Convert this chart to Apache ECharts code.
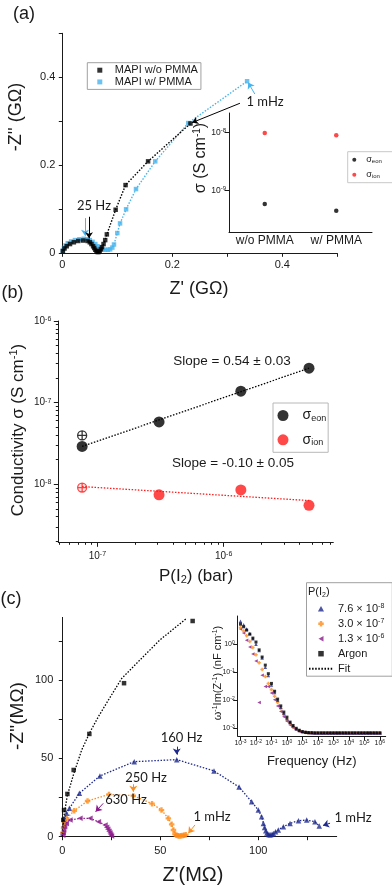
<!DOCTYPE html>
<html>
<head>
<meta charset="utf-8">
<title>MAPI impedance and conductivity</title>
<script src="https://cdn.jsdelivr.net/npm/echarts@6/dist/echarts.min.js"></script>
<style>
  html, body { margin: 0; padding: 0; background: #fff; }
  #chart { width: 392px; height: 887px; }
</style>
</head>
<body>
<div id="chart"></div>
<script>
// ---------- (a) Nyquist plots, GOhm ----------
var aNoPmma = [[0.001,0.005],[0.004,0.011],[0.008,0.016],[0.014,0.021],[0.021,0.025],[0.029,0.028],[0.038,0.029],
  [0.046,0.028],[0.05,0.025],[0.053,0.021],[0.056,0.016],[0.058,0.012],[0.06,0.008],[0.062,0.005],[0.064,0.003],
  [0.066,0.003],[0.068,0.005],[0.07,0.009],[0.072,0.014],[0.075,0.021],[0.078,0.03],[0.081,0.043],[0.097,0.099],
  [0.115,0.155],[0.156,0.209],[0.233,0.295]];
var aPmma = [[0.001,0.006],[0.003,0.012],[0.006,0.018],[0.01,0.023],[0.016,0.027],[0.023,0.03],[0.031,0.032],
  [0.039,0.033],[0.045,0.032],[0.05,0.03],[0.055,0.026],[0.06,0.021],[0.064,0.016],[0.068,0.012],[0.073,0.009],
  [0.078,0.008],[0.083,0.008],[0.087,0.009],[0.091,0.013],[0.094,0.02],[0.1,0.046],[0.105,0.068],[0.116,0.1],
  [0.134,0.146],[0.169,0.209],[0.229,0.296],[0.336,0.391]];
// inset (a), S/cm
var aInsetCats = ['w/o PMMA', 'w/ PMMA'];
var aInsetEon = [5.8e-10, 4.4e-10];
var aInsetIon = [9.7e-9, 8.9e-9];

// ---------- (b) conductivity vs P(I2) ----------
var bPressure = [7.57e-8, 3.08e-7, 1.37e-6, 4.75e-6];
var bEon = [2.9e-8, 5.8e-8, 1.38e-7, 2.64e-7];
var bEonOpen = [[7.57e-8, 3.96e-8]];
var bIonP = [3.08e-7, 1.37e-6, 4.75e-6];
var bIon = [7.4e-9, 8.5e-9, 5.5e-9];
var bIonOpen = [[7.57e-8, 9.1e-9]];
var bEonFit = [[7.57e-8, 2.9e-8], [4.75e-6, 2.64e-7]];
var bIonFit = [[7.57e-8, 9.35e-9], [4.75e-6, 6.3e-9]];
var bXRange = [4.9e-8, 7.4e-6];
var bYRange = [1.94e-9, 1e-6];
var bMajorX = [1e-7, 1e-6];
var bMinorX = [5e-8,6e-8,7e-8,8e-8,9e-8,2e-7,3e-7,4e-7,5e-7,6e-7,7e-7,8e-7,9e-7,2e-6,3e-6,4e-6,5e-6,6e-6,7e-6];
var bMajorY = [1e-8, 1e-7, 1e-6];
var bMinorY = [2e-9,3e-9,4e-9,5e-9,6e-9,7e-9,8e-9,9e-9,2e-8,3e-8,4e-8,5e-8,6e-8,7e-8,8e-8,9e-8,
  2e-7,3e-7,4e-7,5e-7,6e-7,7e-7,8e-7,9e-7];

// ---------- (c) Nyquist plots, MOhm ----------
var cArgon = [[0.5,10.7],[0.9,17],[2.6,27.3],[5.8,42.6],[13.8,65.6],[31.5,98],[66.5,137.7]];
var cArgonFit = [[0,0],[0.9,13.6],[2.5,26],[5.8,40],[9.9,55.4],[14.1,66.7],[18.4,76.6],[23.5,87.2],
  [30.3,101],[39.6,112.8],[49.8,125.6],[63.5,139.5]];
var c76 = [[0.3,3],[0.6,7],[1.2,11.5],[2.2,15],[3.6,18.1],[8.7,27.7],[19.2,38.8],[36.7,47.9],[58.4,49.2],
  [77.4,42],[90.2,31.7],[96.6,22.3],[100,17],[101.7,12.8],[102.6,8.5],[103.2,5.8],[103.8,3.8],[104.4,2.4],
  [105,1.6],[105.6,1.2],[106.3,1.2],[107,1.5],[107.7,2.1],[108.8,3.2],[110.2,4.3],[112.8,6.4],[116.2,8.5],
  [120.5,10.2],[124.7,10.6],[128.9,9.6],[131.1,6.8]];
var c30 = [[0.3,2.5],[0.7,6],[1.3,9],[2.2,11.7],[6.1,16.6],[12.9,22.8],[23.8,27],[36.2,26.2],[45.8,21.1],
  [50.6,17],[54.1,11.7],[55.8,7.9],[56.7,4.3],[57.5,1.7],[58.2,0.9],[59,0.6],[59.8,0.5],[60.6,0.6],
  [61.4,0.8],[62.2,1],[63,1.2]];
var c13 = [[0.2,1],[0.4,2.5],[0.7,4.3],[1.2,6.5],[2,8.5],[3.9,10.7],[9,11.7],[14.1,11.7],[18.4,9.6],
  [21.8,7.5],[22.6,6],[23.2,4.8],[23.8,3.5],[24.3,2.3],[24.7,1.2],[25.1,0.4]];

// inset (c): frequency (Hz) and w^-1 Im(Z^-1) (nF/cm)
var cFreq = [0.001,0.0016,0.0025,0.004,0.0063,0.01,0.016,0.025,0.04,0.063,0.1,0.16,0.25,0.4,0.63,1,1.6,2.5,
  4,6.3,10,16,25,40,63,100,160,250,400,630,1000,1600,2500,4000,6300,10000,16000,25000,40000,63000,
  100000,160000,250000,400000,630000,1000000];
var cInArgon = [5.2,4.2,3.2,2.3,1.66,1.2,0.63,0.35,0.18,0.089,0.04,0.021,0.011,0.0063,0.0038,0.0025,0.00166,
  0.00126,0.001,0.00085,0.00076,0.00072,0.0007,0.0007,0.00069,0.00069,0.00069,0.00069,0.00069,0.00069,
  0.00069,0.00069,0.00069,0.00069,0.00069,0.00069,0.00069,0.00069,0.00069,0.00069,0.00069,0.00069,
  0.00069,0.00069,0.00069,0.00069];
var cIn76 = [6.6,5.0,3.5,2.4,1.58,1.0,0.6,0.32,0.15,0.076,0.035,0.019,0.01,0.0056,0.0034,0.0022,0.0016,
  0.0012,0.00095,0.00083,0.00076,0.00072,0.0007,0.00069,0.00068,0.00068,0.00068,0.00068,0.00068,0.00068,
  0.00068,0.00068,0.00068,0.00068,0.00068,0.00068,0.00068,0.00068,0.00068,0.00068,0.00068,0.00068,
  0.00068,0.00068,0.00068,0.00068];
var cIn30 = [4.0,3.0,2.0,1.26,0.76,0.42,0.22,0.126,0.071,0.04,0.024,0.014,0.0083,0.005,0.0032,0.0021,0.0015,
  0.0011,0.00093,0.00081,0.00074,0.00071,0.00069,0.00068,0.00067,0.00067,0.00067,0.00067,0.00067,0.00067,
  0.00067,0.00067,0.00067,0.00067,0.00067,0.00067,0.00067,0.00067,0.00067,0.00067,0.00067,0.00067,
  0.00067,0.00067,0.00067,0.00067];
var cIn13 = [3.5,2.5,1.4,0.8,0.45,0.25,0.0083,0.079,0.031,0.031,0.018,0.0105,0.0063,0.004,0.0026,0.0018,
  0.0013,0.00105,0.00089,0.00079,0.00074,0.0007,0.00068,0.00067,0.00066,0.00066,0.00066,0.00066,0.00066,
  0.00066,0.00066,0.00066,0.00066,0.00066,0.00066,0.00066,0.00066,0.00066,0.00066,0.00066,0.00066,
  0.00066,0.00066,0.00066,0.00066,0.00066];
var cInXRange = [6.6e-4, 2.4e6];
var cInYRange = [5.3e-4, 10.2];
var cInXTicks = [1e-3,1e-2,1e-1,1,10,100,1e3,1e4,1e5,1e6];
var cInYTicks = [1e-3,1e-2,1e-1,1];

var FONT = 'Liberation Sans';
var ANNO = 'Lato';
var INK = '#1a1a1a';
var BLUE = '#47b4ee', NAVY = '#1f2a8c', ORANGE = '#ff8c1a', PURPLE = '#8b1a8b', RED = '#ff1a1a';
var L = Math.log10;

function logs(arr) { return arr.map(function (v) { return L(v); }); }
function logPairs(arr) { return arr.map(function (p) { return [L(p[0]), L(p[1])]; }); }

function supRich(base) {
  return {
    n: {fontSize: base, fontFamily: FONT, color: INK, lineHeight: base + 1},
    sup: {fontSize: Math.round(base * 0.7), fontFamily: FONT, color: INK, lineHeight: Math.round(base * 0.4), verticalAlign: 'top'}
  };
}
function pow10(v) { return '{n|10}{sup|' + Math.round(v) + '}'; }

function axisBase(grid, min, max, ticks, labels, fs, margin) {
  return {
    type: 'value', gridIndex: grid, min: min, max: max,
    splitLine: {show: false},
    axisLine: {show: true, onZero: false, lineStyle: {color: INK, width: 1}},
    axisTick: {show: true, customValues: ticks, length: 3.5, lineStyle: {color: INK, width: 1}},
    axisLabel: {customValues: labels, color: INK, fontFamily: FONT, fontSize: fs, margin: margin}
  };
}
function logAxis(grid, range, ticks, base, margin, pos) {
  var ax = axisBase(grid, L(range[0]), L(range[1]), logs(ticks), logs(ticks), base, margin);
  ax.axisTick.length = 4.5;
  ax.axisLabel.formatter = pow10;
  ax.axisLabel.rich = supRich(base);
  ax.position = pos;
  return ax;
}
function minorAxis(grid, range, ticks, pos) {
  return {
    type: 'value', gridIndex: grid, min: L(range[0]), max: L(range[1]), position: pos,
    splitLine: {show: false}, axisLabel: {show: false},
    axisLine: {show: false, onZero: false},
    axisTick: {show: true, customValues: logs(ticks), length: 2.5, lineStyle: {color: INK, width: 1}}
  };
}

function arrow(color, pairs) {
  return {
    silent: true, animation: false, symbol: ['none', 'arrow'], symbolSize: 6,
    label: {show: false}, lineStyle: {color: color, width: 1, type: 'solid'},
    data: pairs.map(function (p) { return [{coord: p[0]}, {coord: p[1]}]; })
  };
}

function txtRich(size, fam) {
  return {
    sup: {fontSize: Math.round(size * 0.65), fontFamily: fam, fill: INK, lineHeight: Math.round(size * 0.4), verticalAlign: 'top'},
    sub: {fontSize: Math.round(size * 0.65), fontFamily: fam, fill: INK, lineHeight: Math.round(size * 0.6), verticalAlign: 'bottom'}
  };
}
function txt(x, y, text, size, opt) {
  opt = opt || {};
  var fam = opt.family || FONT;
  return {
    type: 'text', x: x, y: y, rotation: opt.rot || 0, silent: true, z: 100,
    style: {
      text: text, fontSize: size, fontFamily: fam, fill: INK, lineHeight: size + 2,
      align: opt.align || 'center', verticalAlign: 'middle', rich: txtRich(size, fam)
    }
  };
}

var dotted = [1.5, 1.6];
var plusSym = 'path://M-1.3,-3L1.3,-3L1.3,-1.3L3,-1.3L3,1.3L1.3,1.3L1.3,3L-1.3,3L-1.3,1.3L-3,1.3L-3,-1.3L-1.3,-1.3Z';
var crossCircle = 'path://M10,0A10,10,0,1,1,-10,0A10,10,0,1,1,10,0ZM0,-10L0,10M-10,0L10,0';
// legend icons as paths so they keep their aspect
var iconSquare = 'path://M0,0L10,0L10,10L0,10Z';
var iconTriUp = 'path://M5,0L10,9L0,9Z';
var iconTriLeft = 'path://M0,5L9,0L9,10Z';

var legendNames = {
  eonA: '{s|σ}{sub|eon}', ionA: '{s|σ}{sub|ion}',
  eonB: '{s|σ}{sub|eon}', ionB: '{s|σ}{sub|ion}',
  p76: '7.6 × 10{sup|-8}', p30: '3.0 × 10{sup|-7}', p13: '1.3 × 10{sup|-6}',
  Argon: 'Argon', Fit: 'Fit'
};
function legFmt(name) { return legendNames[name] || name; }

var chart = echarts.init(document.getElementById('chart'));
var option = {
  animation: false,
  backgroundColor: '#fff',
  textStyle: {fontFamily: FONT, color: INK},
  grid: [
    {left: 62.3, top: 33.3, width: 275, height: 220, outerBoundsMode: 'none', containLabel: false},
    {left: 229, top: 113, width: 143, height: 119, outerBoundsMode: 'none', containLabel: false},
    {left: 58.3, top: 321, width: 275, height: 221.3, outerBoundsMode: 'none', containLabel: false},
    {left: 62.3, top: 617.4, width: 274.4, height: 219.3, outerBoundsMode: 'none', containLabel: false},
    {left: 237.7, top: 616, width: 148, height: 120, outerBoundsMode: 'none', containLabel: false}
  ],
  xAxis: [
    axisBase(0, 0, 0.5, [0, 0.1, 0.2, 0.3, 0.4, 0.5], [0, 0.2, 0.4], 11, 6),
    {
      type: 'category', gridIndex: 1, data: aInsetCats, boundaryGap: true,
      axisLine: {lineStyle: {color: INK}},
      axisTick: {inside: true, length: 3, lineStyle: {color: INK}},
      axisLabel: {color: INK, fontFamily: FONT, fontSize: 12, margin: 3, interval: 0, hideOverlap: false}
    },
    logAxis(2, bXRange, bMajorX, 10, 8, 'bottom'),
    minorAxis(2, bXRange, bMinorX, 'bottom'),
    axisBase(3, 0, 140, [0, 25, 50, 75, 100, 125], [0, 50, 100], 11, 9),
    logAxis(4, cInXRange, cInXTicks, 7, 3, 'bottom')
  ],
  yAxis: [
    axisBase(0, 0, 0.5, [0, 0.1, 0.2, 0.3, 0.4, 0.5], [0, 0.2, 0.4], 11, 7),
    logAxis(1, [1.9e-10, 2.15e-8], [1e-9, 1e-8], 8.5, 3, 'left'),
    logAxis(2, bYRange, bMajorY, 10, 7, 'left'),
    minorAxis(2, bYRange, bMinorY, 'left'),
    axisBase(3, 0, 140, [0, 25, 50, 75, 100, 125], [0, 50, 100], 11, 9),
    logAxis(4, cInYRange, cInYTicks, 7, 3, 'left')
  ],
  legend: [
    {
      data: [{name: 'MAPI w/o PMMA', icon: iconSquare}, {name: 'MAPI w/ PMMA', icon: iconSquare}],
      orient: 'vertical', left: 87.3, top: 62.7,
      padding: [2, 3, 2, 10], itemWidth: 20, itemHeight: 5, itemGap: 0.7, selectedMode: false,
      borderColor: '#a0a0a0', borderWidth: 1,
      textStyle: {fontSize: 11, fontFamily: FONT, color: INK, lineHeight: 11}
    },
    {
      data: ['eonA', 'ionA'], orient: 'vertical', left: 347.7, top: 151.7,
      padding: [3, 14, 3, 4.6], itemWidth: 14, itemHeight: 4, itemGap: 5, selectedMode: false,
      borderColor: '#c8c8c8', borderWidth: 1, formatter: legFmt,
      textStyle: {fontSize: 9, fontFamily: FONT, color: INK, lineHeight: 10, rich: {
        s: {fontSize: 9, fontFamily: FONT, color: INK, lineHeight: 10},
        sub: {fontSize: 6, fontFamily: FONT, color: INK, lineHeight: 6, verticalAlign: 'bottom'}
      }}
    },
    {
      data: ['eonB', 'ionB'], orient: 'vertical', left: 273, top: 403,
      padding: [5, 2, 5, 4.5], itemWidth: 29, itemHeight: 11, itemGap: 9.3, selectedMode: false,
      borderColor: '#b8b8b8', borderWidth: 1, formatter: legFmt,
      textStyle: {fontSize: 14, fontFamily: FONT, color: INK, lineHeight: 15, rich: {
        s: {fontSize: 14, fontFamily: FONT, color: INK, lineHeight: 15},
        sub: {fontSize: 9, fontFamily: FONT, color: INK, lineHeight: 8, verticalAlign: 'bottom'}
      }}
    },
    {
      data: [{name: 'p76', icon: iconTriUp}, {name: 'p30', icon: plusSym}, {name: 'p13', icon: iconTriLeft},
        {name: 'Argon', icon: iconSquare}, 'Fit'],
      orient: 'vertical', left: 306.5, top: 582.7,
      padding: [20, 8, 1.5, 1.5], itemWidth: 24, itemHeight: 5.5, itemGap: 3, selectedMode: false,
      borderColor: '#a0a0a0', borderWidth: 1, formatter: legFmt,
      textStyle: {fontSize: 11, fontFamily: FONT, color: INK, lineHeight: 12, rich: {
        sup: {fontSize: 7, fontFamily: FONT, color: INK, lineHeight: 4, verticalAlign: 'top'}
      }}
    }
  ],
  series: [
    // (a) main
    {name: 'lineB', type: 'line', xAxisIndex: 0, yAxisIndex: 0, data: aPmma, symbol: 'none',
      lineStyle: {color: BLUE, width: 1.4, type: dotted}, z: 2,
      markLine: arrow(BLUE, [[[0.0413, 0.08], [0.0413, 0.04]], [[0.35, 0.362], [0.338, 0.388]]])},
    {name: 'lineK', type: 'line', xAxisIndex: 0, yAxisIndex: 0, data: aNoPmma, symbol: 'none',
      lineStyle: {color: '#000', width: 1.4, type: dotted}, z: 2,
      markLine: arrow('#000', [[[0.0485, 0.083], [0.0485, 0.034]], [[0.323, 0.341], [0.236, 0.297]]])},
    {name: 'MAPI w/ PMMA', type: 'scatter', xAxisIndex: 0, yAxisIndex: 0, data: aPmma,
      symbol: 'rect', symbolSize: 4.5, itemStyle: {color: BLUE}, z: 3},
    {name: 'MAPI w/o PMMA', type: 'scatter', xAxisIndex: 0, yAxisIndex: 0, data: aNoPmma,
      symbol: 'rect', symbolSize: 4.5, itemStyle: {color: '#000'}, z: 4},
    // (a) inset
    {name: 'eonA', type: 'scatter', xAxisIndex: 1, yAxisIndex: 1, symbolSize: 4.5, itemStyle: {color: '#000'},
      data: aInsetEon.map(function (v, i) { return [aInsetCats[i], L(v)]; })},
    {name: 'ionA', type: 'scatter', xAxisIndex: 1, yAxisIndex: 1, symbolSize: 4.5, itemStyle: {color: RED},
      data: aInsetIon.map(function (v, i) { return [aInsetCats[i], L(v)]; })},
    // (b)
    {name: 'fitEon', type: 'line', xAxisIndex: 2, yAxisIndex: 2, data: logPairs(bEonFit), symbol: 'none',
      lineStyle: {color: '#000', width: 1.3, type: dotted}},
    {name: 'fitIon', type: 'line', xAxisIndex: 2, yAxisIndex: 2, data: logPairs(bIonFit), symbol: 'none',
      lineStyle: {color: RED, width: 1.3, type: dotted}},
    {name: 'eonB', type: 'scatter', xAxisIndex: 2, yAxisIndex: 2, symbolSize: 11, itemStyle: {color: '#000'},
      data: bEon.map(function (v, i) { return [L(bPressure[i]), L(v)]; })},
    {name: 'ionB', type: 'scatter', xAxisIndex: 2, yAxisIndex: 2, symbolSize: 11, itemStyle: {color: RED},
      data: bIon.map(function (v, i) { return [L(bIonP[i]), L(v)]; })},
    {name: 'eonOpen', type: 'scatter', xAxisIndex: 2, yAxisIndex: 2, symbol: crossCircle, symbolSize: 9,
      itemStyle: {color: '#fff', borderColor: '#000', borderWidth: 1.3}, data: logPairs(bEonOpen)},
    {name: 'ionOpen', type: 'scatter', xAxisIndex: 2, yAxisIndex: 2, symbol: crossCircle, symbolSize: 9,
      itemStyle: {color: '#ffe0e0', borderColor: RED, borderWidth: 1.3}, data: logPairs(bIonOpen)},
    // (c) main
    {name: 'Fit', type: 'line', xAxisIndex: 4, yAxisIndex: 4, data: cArgonFit, symbol: 'none',
      itemStyle: {color: 'rgba(0,0,0,0)', borderWidth: 0},
      lineStyle: {color: '#000', width: 1.3, type: dotted}},
    {name: 'fit76', type: 'line', xAxisIndex: 4, yAxisIndex: 4, data: c76, symbol: 'none',
      lineStyle: {color: NAVY, width: 1.3, type: dotted},
      markLine: arrow(NAVY, [[[58.4, 57.5], [58.4, 52.4]], [[136.6, 8.6], [133, 7.2]]])},
    {name: 'fit30', type: 'line', xAxisIndex: 4, yAxisIndex: 4, data: c30, symbol: 'none',
      lineStyle: {color: ORANGE, width: 1.3, type: dotted},
      markLine: arrow(ORANGE, [[[36.2, 33.5], [36.2, 28.7]], [[67.7, 7.5], [64.3, 2.2]]])},
    {name: 'fit13', type: 'line', xAxisIndex: 4, yAxisIndex: 4, data: c13, symbol: 'none',
      lineStyle: {color: PURPLE, width: 1.3, type: dotted},
      markLine: arrow(PURPLE, [[[20.9, 21.3], [17, 16]]])},
    {name: 'p76', type: 'scatter', xAxisIndex: 4, yAxisIndex: 4, data: c76, symbol: 'triangle',
      symbolSize: 5.5, itemStyle: {color: NAVY}},
    {name: 'p30', type: 'scatter', xAxisIndex: 4, yAxisIndex: 4, data: c30, symbol: plusSym,
      symbolSize: 5.5, itemStyle: {color: ORANGE}},
    {name: 'p13', type: 'scatter', xAxisIndex: 4, yAxisIndex: 4, data: c13, symbol: 'triangle',
      symbolRotate: 90, symbolSize: 5.5, itemStyle: {color: PURPLE}},
    {name: 'Argon', type: 'scatter', xAxisIndex: 4, yAxisIndex: 4, data: cArgon, symbol: 'rect',
      symbolSize: 4.5, itemStyle: {color: '#000'}},
    // (c) inset
    {name: 'in13', type: 'scatter', xAxisIndex: 5, yAxisIndex: 5, symbol: 'triangle', symbolRotate: 90,
      symbolSize: 3.5, itemStyle: {color: PURPLE},
      data: cIn13.map(function (v, i) { return [L(cFreq[i]), L(v)]; })},
    {name: 'in30', type: 'scatter', xAxisIndex: 5, yAxisIndex: 5, symbol: plusSym, symbolSize: 3.5,
      itemStyle: {color: ORANGE}, data: cIn30.map(function (v, i) { return [L(cFreq[i]), L(v)]; })},
    {name: 'in76', type: 'scatter', xAxisIndex: 5, yAxisIndex: 5, symbol: 'triangle', symbolSize: 3.5,
      itemStyle: {color: NAVY}, data: cIn76.map(function (v, i) { return [L(cFreq[i]), L(v)]; })},
    {name: 'inAr', type: 'scatter', xAxisIndex: 5, yAxisIndex: 5, symbol: 'rect', symbolSize: 3,
      itemStyle: {color: '#000'}, data: cInArgon.map(function (v, i) { return [L(cFreq[i]), L(v)]; })}
  ],
  graphic: [
    txt(24, 14.5, '(a)', 18),
    txt(12.5, 293, '(b)', 18),
    txt(11, 599, '(c)', 18),
    txt(16, 117, "-Z'' (GΩ)", 18, {rot: Math.PI / 2}),
    txt(199, 289, "Z' (GΩ)", 18),
    txt(201, 158, 'σ (S cm{sup|-1})', 16, {rot: Math.PI / 2}),
    txt(94, 206, '25 Hz', 13, {family: ANNO}),
    txt(265, 102, '1 mHz', 13, {family: ANNO}),
    txt(18, 430, 'Conductivity σ (S cm{sup|-1})', 17, {rot: Math.PI / 2}),
    txt(196, 576, 'P(I{sub|2}) (bar)', 17),
    txt(232, 361.7, 'Slope = 0.54 ± 0.03', 13.5),
    txt(233, 463, 'Slope = -0.10 ± 0.05', 13.5),
    txt(17.5, 716, "-Z''(MΩ)", 19, {rot: Math.PI / 2}),
    txt(193, 875, "Z'(MΩ)", 20),
    txt(218, 673, 'ω{sup|-1}Im(Z{sup|-1}) (nF cm{sup|-1})', 11, {rot: Math.PI / 2}),
    txt(311.7, 761.7, 'Frequency (Hz)', 13),
    txt(181.5, 738, '160 Hz', 13, {family: ANNO}),
    txt(146, 778, '250 Hz', 13, {family: ANNO}),
    txt(126, 800, '630 Hz', 13, {family: ANNO}),
    txt(212, 817, '1 mHz', 13, {family: ANNO}),
    txt(353, 818, '1 mHz', 13, {family: ANNO}),
    txt(308, 591.7, 'P(I{sub|2})', 11, {align: 'left'})
  ]
};
chart.setOption(option);
</script>
</body>
</html>
